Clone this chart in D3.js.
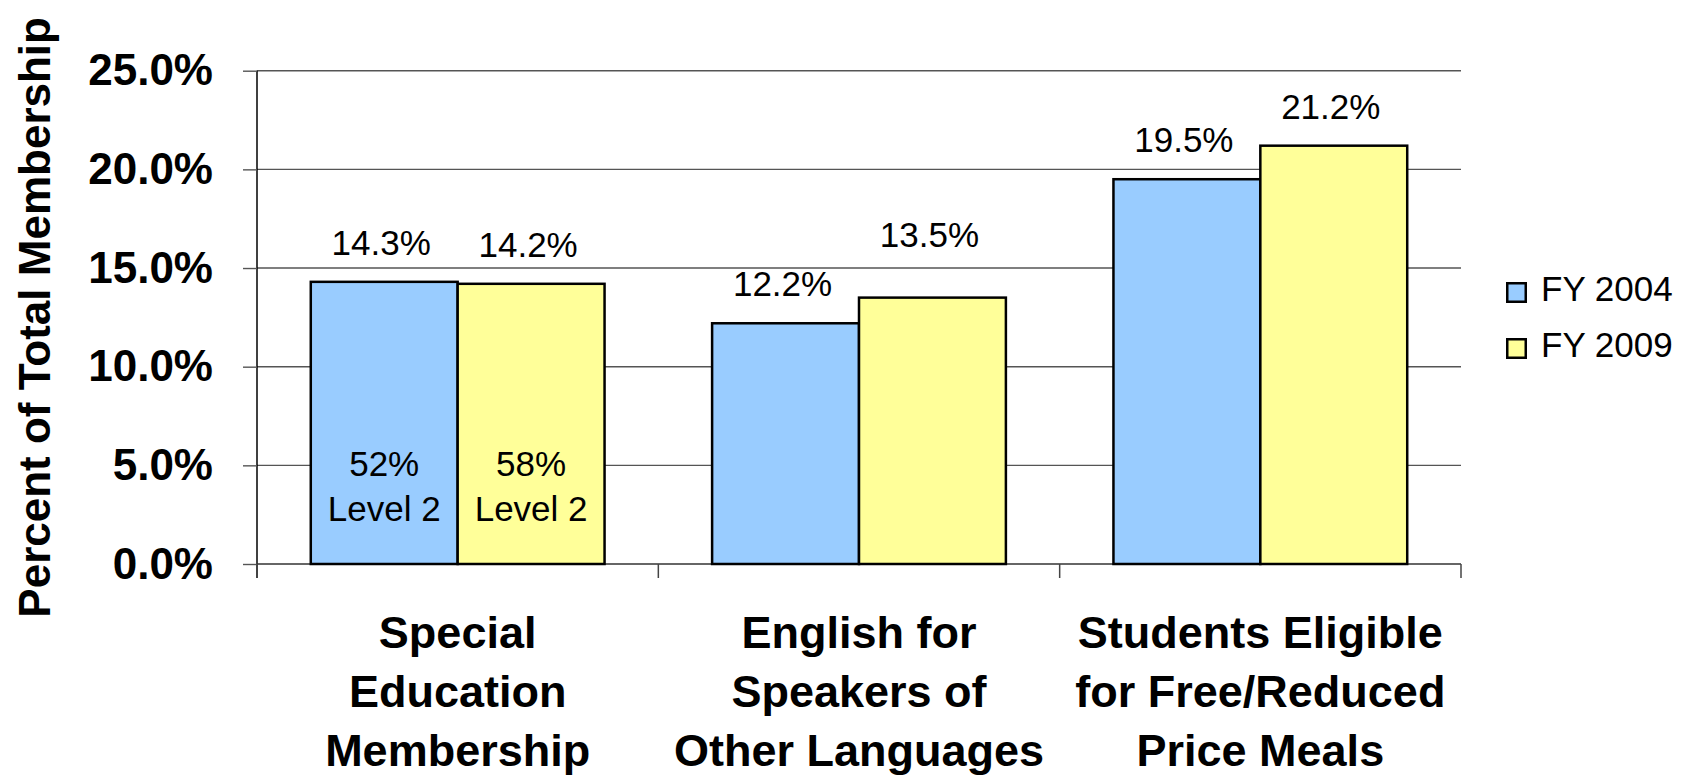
<!doctype html>
<html>
<head>
<style>
    body { margin: 0; background: #fff; }
    text { font-family: "Liberation Sans", Arial, sans-serif; fill: #000; }
</style>
<script src="https://d3js.org/d3.v7.min.js"></script>
</head>
<body>

    <svg id="chart" width="1695" height="778"></svg>

    <script>

        // Data
        var categories = [
          ["Special", "Education", "Membership"],
          ["English for", "Speakers of", "Other Languages"],
          ["Students Eligible", "for Free/Reduced", "Price Meals"]
        ];
        var seriesNames = ["FY 2004", "FY 2009"];
        var fy2004 = [14.3, 12.2, 19.5];
        var fy2009 = [14.2, 13.5, 21.2];
        var innerNotes = [["52%", "Level 2"], ["58%", "Level 2"]];   // inside the special ed bars
        var yTicks = [0, 5, 10, 15, 20, 25];
        var colors = ["#99ccff", "#ffff99"];

        var svg = d3.select("#chart");

        // plot area (note: "top" is reserved on window)
        var plotLeft = 257, plotRight = 1461, plotTop = 70.7, plotBottom = 564;

        // the original chart had one label dragged up a bit
        function labelLift(s, i) { return (s === 1 && i === 1) ? 24 : 0; }

        var x0 = d3.scaleBand()
          .domain(d3.range(categories.length))
          .range([plotLeft, plotRight])
          .paddingInner(0.268)
          .paddingOuter(0.134);
        var x1 = d3.scaleBand()
          .domain(d3.range(seriesNames.length))
          .range([0, x0.bandwidth()]);
        var y = d3.scaleLinear().domain([0, 25]).range([plotBottom, plotTop]);

        // gridlines
        svg.append("g")
          .selectAll("line")
          .data(yTicks.filter(function (d) { return d > 0; }))
          .enter()
          .append("line")
            .attr("x1", plotLeft).attr("x2", plotRight)
            .attr("y1", function (d) { return y(d); })
            .attr("y2", function (d) { return y(d); })
            .attr("stroke", "#555")
            .attr("stroke-width", 1.4);

        // y axis
        var yAxis = svg.append("g")
          .attr("transform", "translate(" + plotLeft + ",0)")
          .call(d3.axisLeft(y)
            .tickValues(yTicks)
            .tickSize(14)
            .tickPadding(30)
            .tickFormat(function (d) { return d.toFixed(1) + "%"; }));
        yAxis.select(".domain").attr("stroke", "#000").attr("stroke-width", 1.5)
          .attr("d", "M0," + plotTop + "V" + (plotBottom + 14));
        yAxis.selectAll(".tick line").attr("stroke", "#555").attr("stroke-width", 1.4);
        yAxis.selectAll(".tick text")
          .attr("font-family", "Liberation Sans, Arial, sans-serif")
          .attr("font-size", 44)
          .attr("font-weight", "bold")
          .attr("fill", "#000");

        // baseline and category separators
        var groups = svg.append("g");
        groups.append("line")
          .attr("x1", plotLeft).attr("x2", plotRight)
          .attr("y1", plotBottom).attr("y2", plotBottom)
          .attr("stroke", "#333").attr("stroke-width", 1.5);
        groups.selectAll("line.sep")
          .data(d3.range(categories.length + 1))
          .enter()
          .append("line")
            .attr("class", "sep")
            .attr("x1", function (i) { return plotLeft + i * x0.step(); })
            .attr("x2", function (i) { return plotLeft + i * x0.step(); })
            .attr("y1", plotBottom).attr("y2", plotBottom + 14)
            .attr("stroke", "#444").attr("stroke-width", 1.5);

        // bars
        var series = [fy2004, fy2009];
        var bars = svg.append("g");
        series.forEach(function (vals, s) {
          bars.selectAll("rect.s" + s)
            .data(vals)
            .enter()
            .append("rect")
              .attr("class", "s" + s)
              .attr("x", function (d, i) { return x0(i) + x1(s); })
              .attr("y", function (d) { return y(d); })
              .attr("width", x1.bandwidth())
              .attr("height", function (d) { return plotBottom - y(d); })
              .attr("fill", colors[s])
              .attr("stroke", "#000")
              .attr("stroke-width", 2.5);

          // value labels
          bars.selectAll("text.v" + s)
            .data(vals)
            .enter()
            .append("text")
              .attr("class", "v" + s)
              .attr("x", function (d, i) { return x0(i) + x1(s) + x1.bandwidth() / 2 - 3; })
              .attr("y", function (d, i) { return y(d) - 27 - labelLift(s, i); })
              .attr("text-anchor", "middle")
              .attr("font-size", 35)
              .text(function (d) { return d.toFixed(1) + "%"; });

          // notes inside first group
          bars.append("text")
            .attr("x", x0(0) + x1(s) + x1.bandwidth() / 2)
            .attr("y", 476)
            .attr("text-anchor", "middle")
            .attr("font-size", 35)
            .selectAll("tspan")
            .data(innerNotes[s])
            .enter()
            .append("tspan")
              .attr("x", x0(0) + x1(s) + x1.bandwidth() / 2)
              .attr("dy", function (d, i) { return i === 0 ? 0 : 45; })
              .text(function (d) { return d; });
        });

        // category labels
        svg.append("g")
          .selectAll("text")
          .data(categories)
          .enter()
          .append("text")
            .attr("text-anchor", "middle")
            .attr("font-size", 45)
            .attr("font-weight", "bold")
            .attr("y", 648)
            .each(function (lines, i) {
              d3.select(this).selectAll("tspan")
                .data(lines)
                .enter()
                .append("tspan")
                  .attr("x", x0(i) + x0.bandwidth() / 2)
                  .attr("dy", function (d, j) { return j === 0 ? 0 : 59; })
                  .text(function (d) { return d; });
            });

        // y title
        svg.append("text")
          .attr("transform", "translate(50," + ((plotTop + plotBottom) / 2) + ") rotate(-90)")
          .attr("text-anchor", "middle")
          .attr("font-size", 44)
          .attr("font-weight", "bold")
          .text("Percent of Total Membership");

        // legend
        var legend = svg.append("g").attr("transform", "translate(1506,282)");
        var items = legend.selectAll("g")
          .data(seriesNames)
          .enter()
          .append("g")
            .attr("transform", function (d, i) { return "translate(0," + i * 56 + ")"; });
        items.append("rect")
          .attr("x", 1.25).attr("y", 1.25)
          .attr("width", 18.5).attr("height", 18.5)
          .attr("fill", function (d, i) { return colors[i]; })
          .attr("stroke", "#000").attr("stroke-width", 2.5);
        items.append("text")
          .attr("x", 35).attr("y", 19)
          .attr("font-size", 35)
          .text(function (d) { return d; });

    </script>

</body>
</html>
